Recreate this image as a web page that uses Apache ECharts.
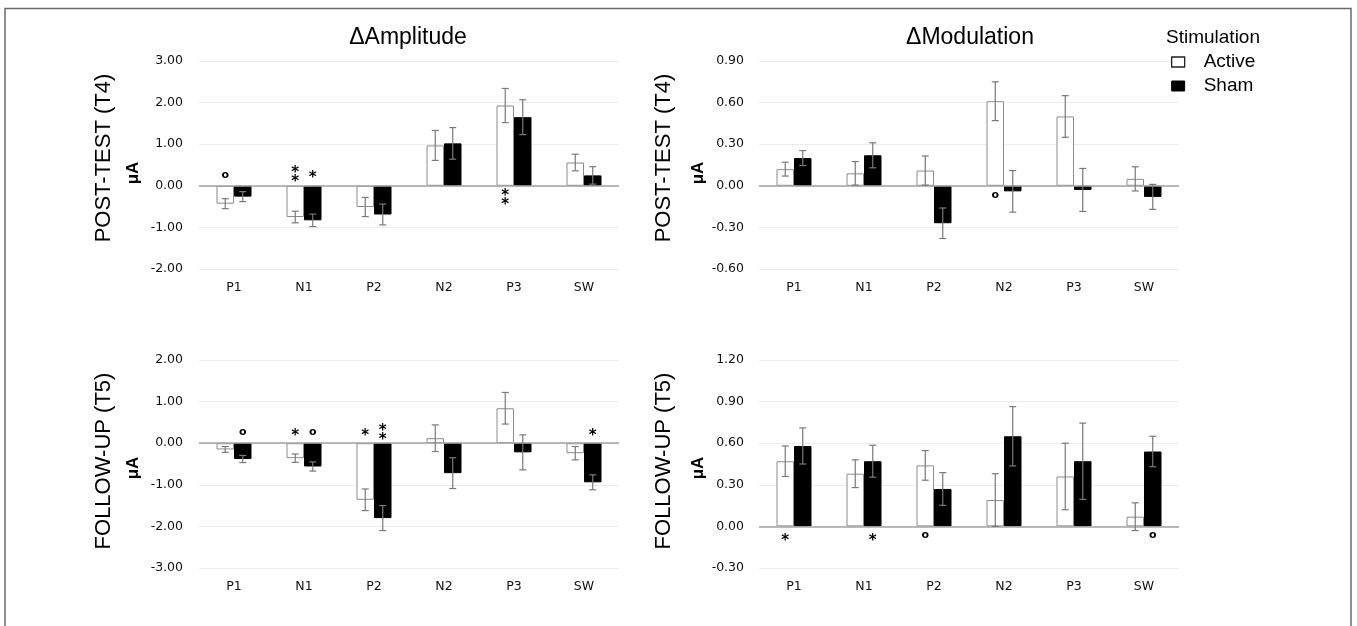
<!DOCTYPE html>
<html>
<head>
<meta charset="utf-8">
<script src="https://cdn.jsdelivr.net/npm/echarts@6/dist/echarts.min.js"></script>
<style>
html,body{margin:0;padding:0;background:#fff;}
#c{width:1357px;height:626px;}
</style>
</head>
<body>
<div id="c"></div>
<script>
// ---------- DATA ----------
const categories = ['P1', 'N1', 'P2', 'N2', 'P3', 'SW'];
const seriesNames = ['Active', 'Sham'];

// ΔAmplitude, POST-TEST (T4)
const ampT4Active    = [-0.43, -0.75, -0.51, 0.97, 1.93, 0.56];
const ampT4ActiveErr = [0.12, 0.14, 0.23, 0.36, 0.41, 0.20];
const ampT4Sham      = [-0.26, -0.83, -0.69, 1.02, 1.65, 0.25];
const ampT4ShamErr   = [0.12, 0.15, 0.25, 0.38, 0.42, 0.21];
const ampT4ActiveSig = ['o', '**', '', '', '**', ''];
const ampT4ShamSig   = ['', '*', '', '', '', ''];
const ampT4Ticks     = [-2, -1, 0, 1, 2, 3];

// ΔModulation, POST-TEST (T4)
const modT4Active    = [0.12, 0.09, 0.11, 0.61, 0.50, 0.05];
const modT4ActiveErr = [0.05, 0.085, 0.105, 0.14, 0.15, 0.087];
const modT4Sham      = [0.20, 0.22, -0.27, -0.04, -0.03, -0.08];
const modT4ShamErr   = [0.054, 0.09, 0.11, 0.15, 0.155, 0.09];
const modT4ActiveSig = ['', '', '', 'o', '', ''];
const modT4ShamSig   = ['', '', '', '', '', ''];
const modT4Ticks     = [-0.6, -0.3, 0, 0.3, 0.6, 0.9];

// ΔAmplitude, FOLLOW-UP (T5)
const ampT5Active    = [-0.15, -0.36, -1.36, 0.12, 0.84, -0.24];
const ampT5ActiveErr = [0.07, 0.10, 0.26, 0.32, 0.38, 0.16];
const ampT5Sham      = [-0.38, -0.56, -1.80, -0.72, -0.22, -0.94];
const ampT5ShamErr   = [0.085, 0.11, 0.30, 0.37, 0.42, 0.18];
const ampT5ActiveSig = ['', '*', '*', '', '', ''];
const ampT5ShamSig   = ['o', 'o', '**', '', '', '*'];
const ampT5Ticks     = [-3, -2, -1, 0, 1, 2];

// ΔModulation, FOLLOW-UP (T5)
const modT5Active    = [0.47, 0.38, 0.44, 0.19, 0.36, 0.07];
const modT5ActiveErr = [0.11, 0.10, 0.107, 0.19, 0.24, 0.10];
const modT5Sham      = [0.58, 0.47, 0.27, 0.65, 0.47, 0.54];
const modT5ShamErr   = [0.13, 0.115, 0.118, 0.214, 0.275, 0.11];
const modT5ActiveSig = ['*', '', 'o', '', '', ''];
const modT5ShamSig   = ['', '*', '', '', '', 'o'];
const modT5Ticks     = [-0.3, 0, 0.3, 0.6, 0.9, 1.2];

const columnTitles = ['\u0394Amplitude', '\u0394Modulation'];
const rowTitles = ['POST-TEST (T4)', 'FOLLOW-UP (T5)'];
const unitLabel = '\u03bcA';
const legendTitle = 'Stimulation';

// ---------- LAYOUT / STYLE ----------
const panels = [
  {grid:{left:199, top:61, width:420, height:208}, a:ampT4Active, ae:ampT4ActiveErr, s:ampT4Sham, se:ampT4ShamErr, as:ampT4ActiveSig, ss:ampT4ShamSig, ticks:ampT4Ticks, lm:16},
  {grid:{left:759, top:61, width:420, height:208}, a:modT4Active, ae:modT4ActiveErr, s:modT4Sham, se:modT4ShamErr, as:modT4ActiveSig, ss:modT4ShamSig, ticks:modT4Ticks, lm:15},
  {grid:{left:199, top:360, width:420, height:208}, a:ampT5Active, ae:ampT5ActiveErr, s:ampT5Sham, se:ampT5ShamErr, as:ampT5ActiveSig, ss:ampT5ShamSig, ticks:ampT5Ticks, lm:16},
  {grid:{left:759, top:360, width:420, height:208}, a:modT5Active, ae:modT5ActiveErr, s:modT5Sham, se:modT5ShamErr, as:modT5ActiveSig, ss:modT5ShamSig, ticks:modT5Ticks, lm:15}
];

const tickFont = 'DejaVu Sans';
const mainFont = 'Liberation Sans, Arial, sans-serif';
const errColor = '#7a7a7a';

function errRender(offset) {
  return function (params, api) {
    const i = api.value(0), v = api.value(1), e = api.value(2);
    const band = api.size([1, 0])[0];
    const c = api.coord([i, v]);
    const x = c[0] + offset * band;
    const yt = api.coord([i, v + e])[1];
    const yb = api.coord([i, v - e])[1];
    const hw = 3.5;
    const st = {stroke: errColor, lineWidth: 1.2};
    return {type: 'group', children: [
      {type: 'line', shape: {x1: x, y1: yt, x2: x, y2: yb}, style: st},
      {type: 'line', shape: {x1: x - hw, y1: yt, x2: x + hw, y2: yt}, style: st},
      {type: 'line', shape: {x1: x - hw, y1: yb, x2: x + hw, y2: yb}, style: st}
    ]};
  };
}

function markRender(vals, marks, offset) {
  return function (params, api) {
    const i = params.dataIndex;
    const m = marks[i];
    if (!m) return null;
    const band = api.size([1, 0])[0];
    const z = api.coord([i, 0]);
    const x = z[0] + offset * band;
    const dir = vals[i] < 0 ? -1 : 1; // negative bar -> mark above zero line
    const children = [];
    function star(d) {
      children.push({type: 'text', x: x, y: z[1] + dir * d + 3.5,
        style: {text: '*', fill: '#000', fontSize: 15, fontWeight: 'bold', fontFamily: 'DejaVu Sans', align: 'center', verticalAlign: 'middle'}});
    }
    if (m === 'o') {
      children.push({type: 'text', x: x, y: z[1] + dir * 10 - 1,
        style: {text: 'o', fill: '#000', fontSize: 11, fontWeight: 'bold', fontFamily: 'DejaVu Sans', align: 'center', verticalAlign: 'middle'}});
    } else if (m === '*') {
      star(11);
    } else if (m === '**') {
      star(7); star(16);
    }
    return {type: 'group', children: children};
  };
}

const grids = [], xAxes = [], yAxes = [], series = [];
panels.forEach(function (p, k) {
  grids.push(p.grid);
  xAxes.push({type: 'category', gridIndex: k, data: categories,
    axisLine: {show: false}, axisTick: {show: false}, splitLine: {show: false},
    axisLabel: {fontSize: 12.5, fontFamily: tickFont, color: '#111', margin: 12}});
  const t = p.ticks;
  yAxes.push({type: 'value', gridIndex: k, min: t[0], max: t[t.length - 1], interval: +(t[1] - t[0]).toFixed(4),
    axisLine: {show: false}, axisTick: {show: false},
    splitLine: {lineStyle: {color: '#ececec', width: 1}},
    axisLabel: {fontSize: 12.5, fontFamily: tickFont, color: '#111', margin: p.lm,
      formatter: function (v) { return Math.abs(v) < 1e-9 ? '0.00' : v.toFixed(2); }}});
  series.push({type: 'bar', name: 'Active', xAxisIndex: k, yAxisIndex: k, data: p.a,
    barCategoryGap: '50%', barGap: '0%',
    itemStyle: {color: '#ffffff', borderColor: '#8c8c8c', borderWidth: 1},
    emphasis: {disabled: true},
    markLine: {silent: true, symbol: 'none', label: {show: false},
      lineStyle: {color: '#a3a3a3', width: 1.6, type: 'solid'}, data: [{yAxis: 0}]}});
  series.push({type: 'bar', name: 'Sham', xAxisIndex: k, yAxisIndex: k, data: p.s,
    barCategoryGap: '50%', barGap: '0%',
    itemStyle: {color: '#000000', borderColor: '#000000', borderWidth: 1},
    emphasis: {disabled: true}});
  series.push({type: 'custom', xAxisIndex: k, yAxisIndex: k, z: 5, silent: true,
    data: p.a.map(function (v, i) { return [i, v, p.ae[i]]; }), renderItem: errRender(-0.125)});
  series.push({type: 'custom', xAxisIndex: k, yAxisIndex: k, z: 5, silent: true,
    data: p.s.map(function (v, i) { return [i, v, p.se[i]]; }), renderItem: errRender(0.125)});
  series.push({type: 'custom', xAxisIndex: k, yAxisIndex: k, z: 6, silent: true,
    data: p.a.map(function (v, i) { return [i, v]; }), renderItem: markRender(p.a, p.as, -0.125)});
  series.push({type: 'custom', xAxisIndex: k, yAxisIndex: k, z: 6, silent: true,
    data: p.s.map(function (v, i) { return [i, v]; }), renderItem: markRender(p.s, p.ss, 0.125)});
});

function rotText(txt, x, y, size, weight) {
  return {type: 'text', x: x, y: y, rotation: Math.PI / 2,
    style: {text: txt, fill: '#000', fontSize: size, fontWeight: weight || 'normal', fontFamily: mainFont, align: 'center', verticalAlign: 'middle'}};
}

const graphics = [
  {type: 'rect', shape: {x: 5, y: 8.5, width: 1346, height: 640}, style: {fill: 'none', stroke: '#6a6a6a', lineWidth: 1.5}, z: -1},
  {type: 'text', x: 408, y: 38, style: {text: columnTitles[0], fill: '#000', fontSize: 23, fontFamily: mainFont, align: 'center', verticalAlign: 'middle'}},
  {type: 'text', x: 970, y: 38, style: {text: columnTitles[1], fill: '#000', fontSize: 23, fontFamily: mainFont, align: 'center', verticalAlign: 'middle'}},
  {type: 'text', x: 1166, y: 38, style: {text: legendTitle, fill: '#000', fontSize: 19, fontFamily: mainFont, align: 'left', verticalAlign: 'middle'}},
  rotText(rowTitles[0], 104, 158, 22), rotText(unitLabel, 133, 173, 17, 'bold'),
  rotText(rowTitles[0], 664, 158, 22), rotText(unitLabel, 698, 173, 17, 'bold'),
  rotText(rowTitles[1], 104, 461, 22), rotText(unitLabel, 133, 468, 17, 'bold'),
  rotText(rowTitles[1], 664, 461, 22), rotText(unitLabel, 698, 468, 17, 'bold')
];

const chart = echarts.init(document.getElementById('c'), null, {renderer: 'canvas'});
chart.setOption({
  backgroundColor: '#ffffff',
  animation: false,
  grid: grids,
  xAxis: xAxes,
  yAxis: yAxes,
  legend: {
    orient: 'vertical', left: 1171, top: 51, padding: 0, itemWidth: 13, itemHeight: 10, itemGap: 2,
    icon: 'rect', selectedMode: false,
    data: [
      {name: seriesNames[0], itemStyle: {color: '#ffffff', borderColor: '#222', borderWidth: 1.3}},
      {name: seriesNames[1], itemStyle: {color: '#000000', borderColor: '#000', borderWidth: 1}}
    ],
    textStyle: {fontSize: 19, fontFamily: mainFont, color: '#000', lineHeight: 22, padding: [0, 0, 0, 14]}
  },
  graphic: graphics,
  series: series
});
</script>
</body>
</html>
